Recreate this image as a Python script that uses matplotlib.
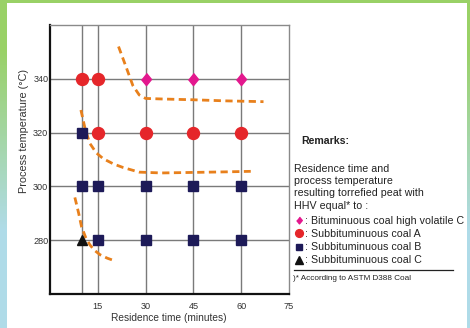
import numpy as np
import matplotlib
matplotlib.use("Agg")
import matplotlib.pyplot as plt
from matplotlib.patches import Rectangle
from matplotlib.lines import Line2D

plt.rcParams['font.family'] = ['Liberation Sans', 'DejaVu Sans']

# ---- data ----
diamond_x = [30, 45, 60]
diamond_y = [340, 340, 340]
circle_x = [10, 15, 15, 30, 45, 60]
circle_y = [340, 340, 320, 320, 320, 320]
square_x = [10, 10, 15, 30, 45, 60, 15, 30, 45, 60]
square_y = [320, 300, 300, 300, 300, 300, 280, 280, 280, 280]
triangle_x = [10]
triangle_y = [280]

curve1_x = [21.5, 24, 26, 28, 30, 35, 45, 55, 67]
curve1_y = [352, 344, 337.5, 334, 332.7, 332.5, 332.2, 331.8, 331.5]
curve2_x = [9.7, 11, 12.5, 14.5, 16.7, 20, 23, 28, 35, 45, 55, 63]
curve2_y = [328.4, 321.5, 316, 312.5, 310.3, 308.3, 307, 305.3, 305.0, 305.2, 305.4, 305.6]
curve3_x = [7.8, 9.0, 9.9, 11.2, 12.5, 14.0, 15.7, 18, 20.4]
curve3_y = [295.9, 290, 285, 281, 278.3, 276.2, 274.6, 273.3, 272.3]

x_grid = [10, 15, 30, 45, 60]
y_grid = [280, 300, 320, 340]
x_ticks = [15, 30, 45, 60, 75]
y_ticks = [280, 300, 320, 340]

legend_labels = [": Bituminuous coal high volatile C",
                 ": Subbituminuous coal A",
                 ": Subbituminuous coal B",
                 ": Subbituminuous coal C"]
remark_lines = ["Residence time and", "process temperature",
                "resulting torrefied peat with", "HHV equal* to :"]

# ---- styles ----
W, H = 470, 328
C_DIAMOND = '#e3188e'
C_CIRCLE = '#e5262a'
C_SQUARE = '#1d1a58'
C_TRI = '#111111'
C_DASH = '#e8801c'
C_GRID = '#7a7a7a'

fig = plt.figure(figsize=(W / 100, H / 100), dpi=100)

def fx(px):
    return px / W

def fy(py):
    return 1 - py / H

# background gradient border
bg = fig.add_axes([0, 0, 1, 1])
green = np.array([0.60, 0.82, 0.40])
blue = np.array([0.69, 0.86, 0.91])
t = np.clip((np.linspace(0, 1, H) - 0.15) / 0.55, 0, 1)[:, None]
grad = green * (1 - t) + blue * t
img = np.repeat(grad[:, None, :], 4, axis=1)
bg.imshow(img, aspect='auto', extent=[0, 1, 0, 1])
bg.set_xlim(0, 1)
bg.set_ylim(0, 1)
bg.axis('off')
bg.add_patch(Rectangle((fx(7), 0), fx(467) - fx(7), fy(3), facecolor='white',
                       edgecolor='none', transform=bg.transAxes))

# main axes
ax = fig.add_axes([fx(50), fy(294), fx(289) - fx(50), fy(25) - fy(294)])
ax.set_facecolor('white')
ax.set_xlim(0, 75)
ax.set_ylim(260, 360)

for xv in x_grid:
    ax.axvline(xv, color=C_GRID, lw=1.0, zorder=1)
for yv in y_grid:
    ax.axhline(yv, color=C_GRID, lw=1.0, zorder=1)

dash = (0, (2.6, 1.6))
for cx, cy in [(curve1_x, curve1_y), (curve2_x, curve2_y), (curve3_x, curve3_y)]:
    ax.plot(cx, cy, color=C_DASH, lw=2.0, linestyle=dash, zorder=2)

diamond_marker = [(0, 1), (0.82, 0), (0, -1), (-0.82, 0)]
ax.plot(diamond_x, diamond_y, linestyle='none', marker=diamond_marker, ms=8.8,
        color=C_DIAMOND, zorder=3)
ax.plot(circle_x, circle_y, linestyle='none', marker='o', ms=8.6,
        color=C_CIRCLE, zorder=3)
ax.plot(square_x, square_y, linestyle='none', marker='s', ms=7.7,
        color=C_SQUARE, zorder=3)
ax.plot(triangle_x, triangle_y, linestyle='none', marker='^', ms=7.8,
        color=C_TRI, zorder=3)

ax.set_xticks(x_ticks)
ax.set_yticks(y_ticks)
ax.tick_params(axis='x', length=0, pad=5.5, labelsize=6.6, labelcolor='#333333')
ax.tick_params(axis='y', length=0, pad=1.2, labelsize=6.6, labelcolor='#333333')

for s in ['left', 'bottom']:
    ax.spines[s].set_color('#111111')
    ax.spines[s].set_linewidth(1.6)
for s in ['top', 'right']:
    ax.spines[s].set_color('#8a8a8a')
    ax.spines[s].set_linewidth(1.0)

fig.text(fx(169), fy(318), "Residence time (minutes)", ha='center', va='center',
         fontsize=7.3, color='#333333')
fig.text(fx(24), fy(131), "Process temperature (°C)", ha='center', va='center',
         rotation=90, fontsize=7.8, color='#333333')

# remarks block
fig.text(fx(301), fy(144), "Remarks:", fontsize=7.6, fontweight='bold',
         color='#222222', va='baseline')
base = [171.5, 184, 196.5, 209]
for yy, line in zip(base, remark_lines):
    fig.text(fx(294), fy(yy), line, fontsize=7.7, color='#222222', va='baseline')

leg_y = [219.8, 233.2, 246.6, 259.6]
leg_markers = [(diamond_marker, C_DIAMOND, 4.9), ('o', C_CIRCLE, 5.6),
               ('s', C_SQUARE, 4.7), ('^', C_TRI, 5.2)]
for yy, lab, (mk, col, ms) in zip(leg_y, legend_labels, leg_markers):
    fig.add_artist(Line2D([fx(298.5)], [fy(yy)], marker=mk, color=col, ms=ms,
                          linestyle='none', transform=fig.transFigure))
    fig.text(fx(305), fy(yy + 3.8), lab, fontsize=7.7, color='#222222', va='baseline')

fig.add_artist(Line2D([fx(294), fx(453)], [fy(270), fy(270)], color='#222222',
                      lw=0.9, transform=fig.transFigure))
fig.text(fx(293), fy(280), ")* According to ASTM D388 Coal", fontsize=5.9,
         color='#222222', va='baseline')

fig.savefig("out.png", dpi=100)
